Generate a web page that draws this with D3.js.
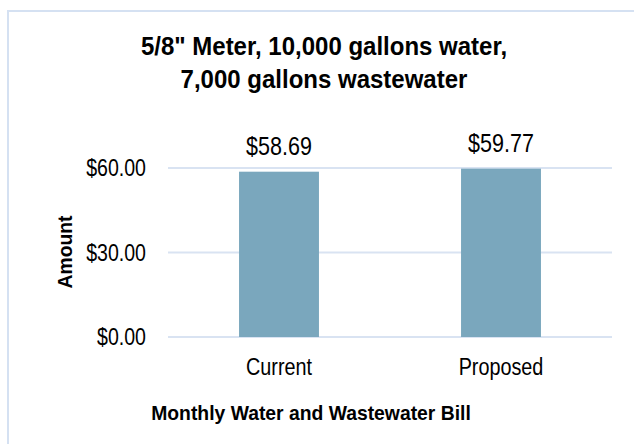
<!DOCTYPE html>
<html>
<head>
<meta charset="utf-8">
<script src="https://cdn.jsdelivr.net/npm/d3@7"></script>
<style>
  body { margin: 0; background: #fff; }
  text { font-family: "Liberation Sans Narrow", "Arial Narrow", "Liberation Sans", Arial, sans-serif; fill: #000; }
</style>
</head>
<body>
<svg width="634" height="444"></svg>
<script>
// data
var categories = ["Current", "Proposed"];
var amounts = [58.69, 59.77];
var tickValues = [0, 30, 60];
var titleLines = ["5/8\" Meter, 10,000 gallons water,", "7,000 gallons wastewater"];
var xTitle = "Monthly Water and Wastewater Bill";
var yTitle = "Amount";

var svg = d3.select("svg");

// no narrow font installed, so squeeze the regular one
function narrow(sel, k) {
  sel.each(function() {
    var w = this.getComputedTextLength();
    d3.select(this).attr("textLength", w * k).attr("lengthAdjust", "spacingAndGlyphs");
  });
}

// chart frame (runs off the right and bottom of the picture)
svg.append("rect")
  .attr("x", 8).attr("y", 11)
  .attr("width", 640).attr("height", 450)
  .attr("fill", "#fff")
  .attr("stroke", "#d5e1f2")
  .attr("stroke-width", 2);

var x = d3.scaleBand().domain(categories).range([168, 612])
  .paddingInner(0.64).paddingOuter(0.32);
var y = d3.scaleLinear().domain([0, 60]).range([337, 168]);

// gridlines
svg.append("g")
  .selectAll("line")
  .data(tickValues)
  .enter()
  .append("line")
  .attr("x1", 168).attr("x2", 612)
  .attr("y1", d => y(d)).attr("y2", d => y(d))
  .attr("stroke", "#d9e3f2")
  .attr("stroke-width", 2);

// y tick labels
svg.append("g")
  .selectAll("text")
  .data(tickValues)
  .enter()
  .append("text")
  .attr("x", 146)
  .attr("y", d => y(d))
  .attr("dy", "0.35em")
  .attr("text-anchor", "end")
  .style("font-size", "23px")
  .text(d => "$" + d3.format(".2f")(d))
  .call(narrow, 0.85);

// bars
svg.append("g")
  .selectAll("rect")
  .data(amounts)
  .enter()
  .append("rect")
  .attr("x", (d, i) => x(categories[i]))
  .attr("y", d => y(d))
  .attr("width", x.bandwidth())
  .attr("height", d => y(0) - y(d))
  .attr("fill", "#7aa7bd");

// value labels
svg.append("g")
  .selectAll("text")
  .data(amounts)
  .enter()
  .append("text")
  .attr("x", (d, i) => x(categories[i]) + x.bandwidth() / 2)
  .attr("y", d => y(d) - 17)
  .attr("text-anchor", "middle")
  .style("font-size", "25px")
  .text(d => "$" + d3.format(".2f")(d))
  .call(narrow, 0.86);

// category labels
svg.append("g")
  .selectAll("text")
  .data(categories)
  .enter()
  .append("text")
  .attr("x", d => x(d) + x.bandwidth() / 2)
  .attr("y", 375)
  .attr("text-anchor", "middle")
  .style("font-size", "23px")
  .text(d => d)
  .call(narrow, 0.86);

// title
svg.append("g")
  .selectAll("text")
  .data(titleLines)
  .enter()
  .append("text")
  .attr("x", 324)
  .attr("y", (d, i) => 55 + i * 33)
  .attr("text-anchor", "middle")
  .style("font-size", "25px")
  .style("font-weight", "bold")
  .text(d => d)
  .call(narrow, 0.96);

// axis titles
svg.append("text")
  .attr("x", 311).attr("y", 420)
  .attr("text-anchor", "middle")
  .style("font-size", "21px")
  .style("font-weight", "bold")
  .text(xTitle)
  .call(narrow, 0.92);

svg.append("text")
  .attr("transform", "translate(72,252) rotate(-90)")
  .attr("text-anchor", "middle")
  .style("font-size", "21px")
  .style("font-weight", "bold")
  .text(yTitle)
  .call(narrow, 0.92);
</script>
</body>
</html>
